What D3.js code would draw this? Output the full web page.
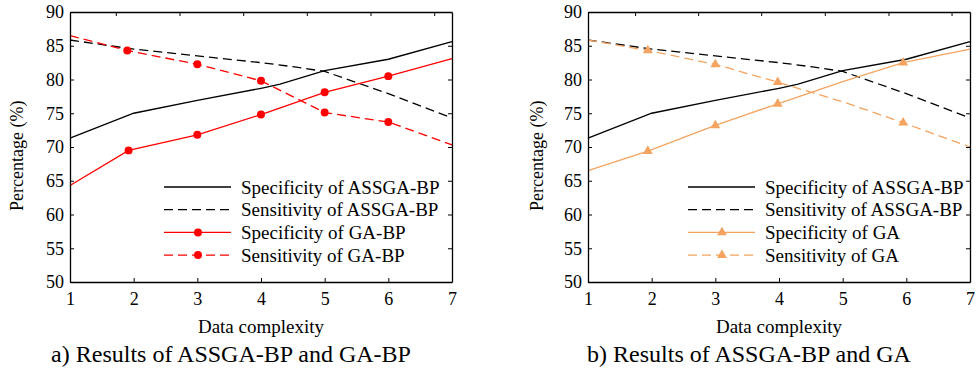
<!DOCTYPE html>
<html>
<head>
<meta charset="utf-8">
<script src="https://cdn.jsdelivr.net/npm/d3@7"></script>
<style>
  body { margin: 0; background: #fff; }
  text { font-family: "Liberation Serif", "Times New Roman", serif; fill: #000; }
</style>
</head>
<body>
<svg id="chart" width="977" height="368"></svg>
<script>
// data
var xTicks = [1, 2, 3, 4, 5, 6, 7]
var yTicks = [50, 55, 60, 65, 70, 75, 80, 85, 90]
var topTicksA = [1.72, 2.72, 3.72, 4.72, 5.72, 6.72]
var topTicksB = [1.74, 2.73, 3.72, 4.72, 5.72, 6.71]

var specAssgaX = [1, 2, 3, 4, 4.3, 5, 6, 7]
var specAssgaY = [71.3, 75.0, 76.9, 78.7, 79.3, 81.3, 83.0, 85.6]
var sensAssgaX = [1, 2, 3, 4, 4.5, 5, 6, 7]
var sensAssgaY = [85.85, 84.5, 83.5, 82.5, 81.9, 81.2, 77.9, 74.3]

var specGabpX = [1, 1.92, 3, 4, 5, 6, 7]
var specGabpY = [64.3, 69.5, 71.8, 74.8, 78.1, 80.5, 83.1]
var sensGabpX = [1, 1.9, 3, 4, 5, 6, 7]
var sensGabpY = [86.5, 84.3, 82.25, 79.8, 75.1, 73.7, 70.3]
var gabpMarks = [1, 2, 3, 4, 5]

var specGaX = [1, 1.94, 3, 3.98, 5, 5.95, 7]
var specGaY = [66.5, 69.4, 73.2, 76.4, 79.7, 82.5, 84.5]
var sensGaX = [1, 1.94, 3, 3.98, 5, 5.95, 7]
var sensGaY = [85.85, 84.3, 82.25, 79.6, 76.7, 73.6, 70.0]
var gaMarks = [1, 2, 3, 5]

var red = "#ff0000", orange = "#f4a460"

function zip(xs, ys){ return xs.map(function(x, i){ return [x, ys[i]] }) }

var panels = [
  {left: 70, caption: "a) Results of ASSGA-BP and GA-BP", topTicks: topTicksA, legX: 164, labX: -47,
   series: [
     {name: "Specificity of ASSGA-BP", pts: zip(specAssgaX, specAssgaY), color: "#000", dash: null},
     {name: "Sensitivity of ASSGA-BP", pts: zip(sensAssgaX, sensAssgaY), color: "#000", dash: "9,5"},
     {name: "Specificity of GA-BP", pts: zip(specGabpX, specGabpY), color: red, dash: null, mark: "circle", marks: gabpMarks},
     {name: "Sensitivity of GA-BP", pts: zip(sensGabpX, sensGabpY), color: red, dash: "9,5", mark: "circle", marks: gabpMarks}
   ]},
  {left: 588, caption: "b) Results of ASSGA-BP and GA", topTicks: topTicksB, legX: 688, labX: -45,
   series: [
     {name: "Specificity of ASSGA-BP", pts: zip(specAssgaX, specAssgaY), color: "#000", dash: null},
     {name: "Sensitivity of ASSGA-BP", pts: zip(sensAssgaX, sensAssgaY), color: "#000", dash: "9,5"},
     {name: "Specificity of GA", pts: zip(specGaX, specGaY), color: orange, dash: null, mark: "triangle", marks: gaMarks},
     {name: "Sensitivity of GA", pts: zip(sensGaX, sensGaY), color: orange, dash: "9,5", mark: "triangle", marks: gaMarks}
   ]}
]

var W = 382, H = 270, plotTop = 12
var svg = d3.select("#chart")

function symbolFor(s){
  return s.mark == "circle" ? d3.symbol(d3.symbolCircle, 50) : d3.symbol(d3.symbolTriangle, 42)
}

panels.forEach(function(p){
  var g = svg.append("g").attr("transform", "translate(" + p.left + "," + plotTop + ")")
  var x = d3.scaleLinear().domain([1, 7]).range([0, W])
  var y = d3.scaleLinear().domain([50, 90]).range([H, 0])

  // lines
  var line = d3.line().x(d => x(d[0])).y(d => y(d[1]))
  p.series.forEach(function(s){
    g.append("path")
      .attr("d", line(s.pts))
      .attr("fill", "none")
      .attr("stroke", s.color)
      .attr("stroke-width", 1.3)
      .attr("stroke-dasharray", s.dash)
    if (s.mark) {
      g.selectAll(null).data(s.marks.map(i => s.pts[i])).enter()
        .append("path")
        .attr("d", symbolFor(s))
        .attr("transform", d => "translate(" + x(d[0]) + "," + y(d[1]) + ")")
        .attr("fill", s.color)
    }
  })

  // axes, ticks pointing inward
  var fmt = d3.format("d")
  var bottom = g.append("g").attr("transform", "translate(0," + H + ")")
    .call(d3.axisBottom(x).tickValues(xTicks).tickFormat(fmt).tickSizeInner(-4).tickSizeOuter(0).tickPadding(10))
  var leftAx = g.append("g")
    .call(d3.axisLeft(y).tickValues(yTicks).tickFormat(fmt).tickSizeInner(-4).tickSizeOuter(0).tickPadding(6))
  var topAx = g.append("g")
    .call(d3.axisTop(x).tickValues(p.topTicks).tickSizeInner(-4).tickSizeOuter(0).tickFormat(""))
  var rightAx = g.append("g").attr("transform", "translate(" + W + ",0)")
    .call(d3.axisRight(y).tickValues(yTicks).tickSizeInner(-4).tickSizeOuter(0).tickFormat(""))
  ;[bottom, leftAx, topAx, rightAx].forEach(function(a){
    a.select(".domain").attr("stroke", "#000").attr("stroke-width", 1.3)
    a.selectAll(".tick line").attr("stroke", "#000").attr("stroke-width", 1)
    a.selectAll(".tick text").style("font-family", "Liberation Serif").style("font-size", "18px").attr("fill", "#000")
  })

  // legend
  p.series.forEach(function(s, i){
    var ly = 175 + i * 22.7
    var lg = g.append("g").attr("transform", "translate(" + (p.legX - p.left) + "," + ly + ")")
    lg.append("line").attr("x1", 0).attr("x2", 67).attr("y1", 0).attr("y2", 0)
      .attr("stroke", s.color).attr("stroke-width", 1.3).attr("stroke-dasharray", s.dash)
    if (s.mark) {
      lg.append("path").attr("d", symbolFor(s)).attr("transform", "translate(34,0)").attr("fill", s.color)
    }
    lg.append("text").attr("x", 77).attr("y", 0).attr("dy", "0.35em")
      .style("font-size", "19px").text(s.name)
  })

  // labels
  g.append("text").attr("x", W / 2).attr("y", 333 - plotTop).attr("text-anchor", "middle")
    .style("font-size", "19px").text("Data complexity")
  g.append("text").attr("transform", "translate(" + p.labX + "," + (H / 2 + 8.7) + ") rotate(-90)")
    .attr("text-anchor", "middle").style("font-size", "18px").text("Percentage (%)")
  g.append("text").attr("x", W / 2 - 30).attr("y", 362 - plotTop).attr("text-anchor", "middle")
    .style("font-size", "24px").text(p.caption)
})
</script>
</body>
</html>
